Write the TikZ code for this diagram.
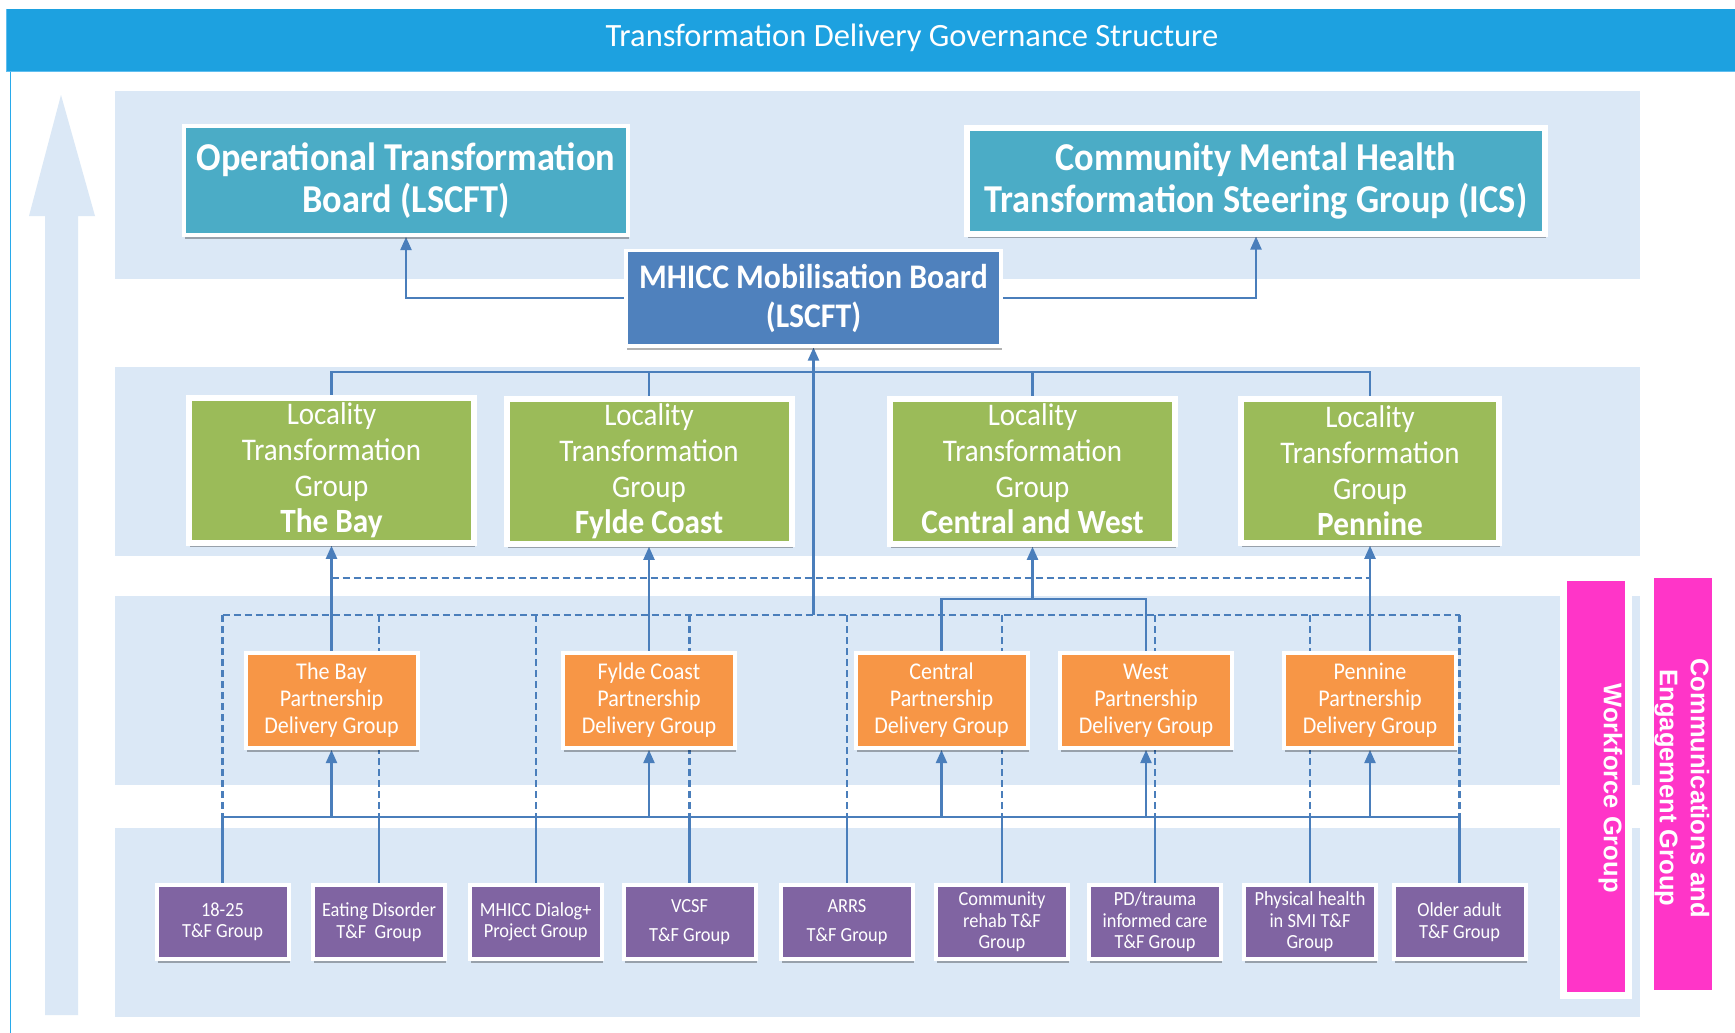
\documentclass[tikz,border=0pt]{standalone}
\usepackage{fontspec}
\setmainfont{Carlito}
\newfontfamily\cond[FakeStretch=0.92]{Carlito}
\newfontfamily\arialfont{Liberation Sans}
\usetikzlibrary{arrows.meta,shadows}
\definecolor{titleblue}{RGB}{29,161,224}
\definecolor{titleedge}{RGB}{95,190,240}
\definecolor{bandblue}{RGB}{219,232,246}
\definecolor{linec}{RGB}{74,126,187}
\definecolor{tealc}{RGB}{75,172,198}
\definecolor{mhiccc}{RGB}{79,129,189}
\definecolor{greenc}{RGB}{155,187,89}
\definecolor{orangec}{RGB}{247,150,70}
\definecolor{purplec}{RGB}{128,100,162}
\definecolor{pinkc}{RGB}{255,53,200}
\definecolor{leftline}{RGB}{40,170,235}
\pgfdeclarelayer{bands}
\pgfdeclarelayer{lines}
\pgfsetlayers{bands,lines,main}
\begin{document}
\begin{tikzpicture}[x=1pt,y=-1pt,
  bx/.style={draw=white, inner sep=0pt, align=center, text=white,
    drop shadow={shadow xshift=1pt, shadow yshift=-4pt, opacity=0.3, fill=black}},
  topbox/.style={bx, fill=tealc, line width=4pt, font={\cond\bfseries\fontsize{39.5}{42}\selectfont}},
  mhbox/.style={bx, fill=mhiccc, line width=3.5pt, font={\cond\bfseries\fontsize{34.5}{39}\selectfont}},
  grbox/.style={bx, fill=greenc, line width=6pt, minimum width=285pt, minimum height=144.5pt, font={\cond\fontsize{31.5}{36}\selectfont}},
  orbox/.style={bx, fill=orangec, line width=4pt, minimum width=172pt, minimum height=95pt, font={\cond\fontsize{24}{27}\selectfont}},
  pubox/.style={bx, fill=purplec, line width=4pt, minimum width=132pt, minimum height=74.5pt, font={\cond\fontsize{20}{21.5}\selectfont}},
  pkbox/.style={bx, fill=pinkc, line width=7pt},
  pktext/.style={text=white, rotate=-90, align=center, inner sep=0pt, font={\arialfont\bfseries\fontsize{25.5}{31}\selectfont}},
  conn/.style={draw=linec, line width=2.1pt},
  arr/.style={conn, -{Triangle[width=11pt,length=13pt]}},
  dsh/.style={draw=linec, line width=2.1pt, dash pattern=on 7pt off 4pt}
]
\useasboundingbox (0,0) rectangle (1735,1033);

% background bands, title bar, side arrow
\begin{pgfonlayer}{bands}
\fill[white] (0,0) rectangle (1735,1033);
\fill[bandblue] (115,91) rectangle (1640,279);
\fill[bandblue] (115,367) rectangle (1640,556);
\fill[bandblue] (115,596) rectangle (1640,785);
\fill[bandblue] (115,828) rectangle (1640,1017);
\fill[titleblue] (6,9) rectangle (1735,72);
\draw[titleedge, line width=1pt] (6.5,9) -- (6.5,72);
\draw[titleedge, line width=1.2pt] (6,71.5) -- (1735,71.5);
\draw[leftline, line width=1.5pt] (10.5,72) -- (10.5,1033);
\fill[bandblue] (61,95) -- (95,216) -- (78,216) -- (78,1015) -- (45,1015) -- (45,216) -- (29,216) -- cycle;
\end{pgfonlayer}

\node[text=white, anchor=base, inner sep=0pt, font={\fontsize{32.5}{38}\selectfont}] (title) at (912,47) {Transformation Delivery Governance Structure};

% top level
\node[topbox, minimum width=444pt, minimum height=109pt] (opb) at (406,180.5) {Operational Transformation\\Board (LSCFT)};
\node[topbox, line width=6pt, minimum width=578pt, minimum height=106pt] (cmh) at (1256,180.5) {Community Mental Health\\Transformation Steering Group (ICS)};
\node[mhbox, minimum width=375pt, minimum height=95.5pt] (mhicc) at (813.5,298) {MHICC Mobilisation Board\\(LSCFT)};

% locality groups
\node[grbox] (g1) at (331.5,470.5) {Locality\\Transformation\\Group\\{\bfseries\fontsize{34}{36}\selectfont The Bay}};
\node[grbox] (g2) at (649,471.5) {Locality\\Transformation\\Group\\{\bfseries\fontsize{34}{36}\selectfont Fylde Coast}};
\node[grbox] (g3) at (1032.5,471.5) {Locality\\Transformation\\Group\\{\bfseries\fontsize{34}{36}\selectfont Central and West\vphantom{y}}};
\node[grbox, minimum width=257.5pt, minimum height=143.5pt] (g4) at (1370,471) {Locality\\Transformation\\Group\\{\bfseries\fontsize{34}{36}\selectfont Pennine}};

% partnership delivery groups
\node[orbox] (o1) at (331.5,700.5) {The Bay\\Partnership\\Delivery Group};
\node[orbox] (o2) at (649,700.5) {Fylde Coast\\Partnership\\Delivery Group};
\node[orbox] (o3) at (941.5,700.5) {Central\\Partnership\\Delivery Group};
\node[orbox] (o4) at (1146,700.5) {West\\Partnership\\Delivery Group};
\node[orbox] (o5) at (1370,700.5) {Pennine\\Partnership\\Delivery Group};

% T&F groups
\node[pubox] (p1) at (222.5,922) {18-25\\T\&F Group};
\node[pubox] (p2) at (379,922) {Eating Disorder\\T\&F~~Group};
\node[pubox] (p3) at (535.7,922) {MHICC Dialog+\\Project Group};
\node[pubox] (p4) at (689.5,922) {VCSF\\[8pt]T\&F Group};
\node[pubox] (p5) at (847,922) {ARRS\\[8pt]T\&F Group};
\node[pubox] (p6) at (1002,922) {Community\\rehab T\&F\\Group};
\node[pubox] (p7) at (1155,922) {PD/trauma\\informed care\\T\&F Group};
\node[pubox] (p8) at (1310,922) {Physical health\\in SMI T\&F\\Group};
\node[pubox] (p9) at (1459.5,922) {Older adult\\T\&F Group};

% side groups
\node[pkbox, minimum width=65pt, minimum height=418pt] (wf) at (1595.5,786) {};
\node[pkbox, minimum width=65.5pt, minimum height=418.5pt] (ce) at (1682.8,784) {};
\node[pktext] (wft) at (1610.5,788) {Workforce Group};
\node[pktext] (cet) at (1682,788) {Communications and\\Engagement Group};

% connector coordinates
\coordinate (busG) at (0,372);
\coordinate (dashA) at (0,578);
\coordinate (cwbus) at (0,599);
\coordinate (dashB) at (0,615);
\coordinate (busP) at (0,817);

\begin{pgfonlayer}{lines}
\draw[arr] (mhicc.west) -| (opb.south);
\draw[arr] (mhicc.east) -| (cmh.south);
\draw[conn] (g1.north) -- (g1.north |- busG) -- (g4.north |- busG) -- (g4.north);
\draw[conn] (g2.north) -- (g2.north |- busG);
\draw[conn] (g3.north) -- (g3.north |- busG);
\draw[arr] (mhicc.south |- dashB) -- (mhicc.south);
\draw[dsh] (g1.south |- dashA) -- (g4.south |- dashA);
\draw[arr] (o1.north) -- (o1.north |- g1.south);
\draw[arr] (o2.north) -- (o2.north |- g2.south);
\draw[conn] (o3.north) -- (o3.north |- cwbus) -- (o4.north |- cwbus) -- (o4.north);
\draw[arr] (g3.south |- cwbus) -- (g3.south);
\draw[arr] (o5.north) -- (o5.north |- g4.south);
\draw[dsh] (p1.north |- dashB) -- (p9.north |- dashB);
\foreach \i in {1,...,9} {
  \draw[dsh] (p\i.north |- dashB) -- (p\i.north |- busP);
  \draw[conn] (p\i.north) -- (p\i.north |- busP);
}
\draw[conn] (p1.north |- busP) -- (p9.north |- busP);
\foreach \i in {1,...,5} \draw[arr] (o\i.south |- busP) -- (o\i.south);
\end{pgfonlayer}
\end{tikzpicture}
\end{document}
